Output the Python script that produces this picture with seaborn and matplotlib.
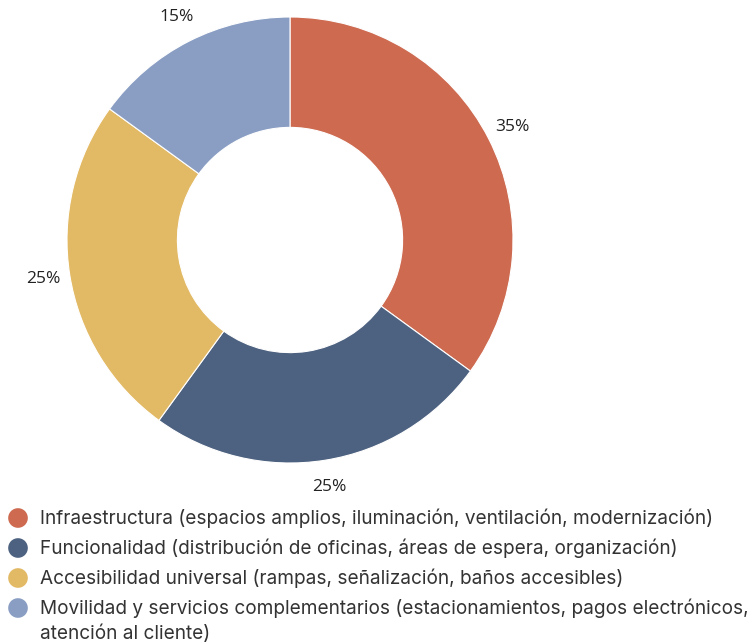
import matplotlib
matplotlib.use("Agg")
import matplotlib.pyplot as plt
import seaborn as sns

categories = [
    "Infraestructura (espacios amplios, iluminación, ventilación, modernización)",
    "Funcionalidad (distribución de oficinas, áreas de espera, organización)",
    "Accesibilidad universal (rampas, señalización, baños accesibles)",
    "Movilidad y servicios complementarios (estacionamientos, pagos electrónicos,\natención al cliente)",
]
values = [35, 25, 25, 15]
pct_labels = ["35%", "25%", "25%", "15%"]
colors = ["#CD6A50", "#4D6180", "#E2B964", "#8A9EC4"]

sns.set_theme(style="white")
plt.rcParams["font.family"] = ["Open Sans", "DejaVu Sans"]

W, H = 748, 644
fig = plt.figure(figsize=(W / 100, H / 100), dpi=100)
ax = fig.add_axes([0, 0, 1, 1])

cx, cy, r = 290, H - 240, 223
wedges, texts = ax.pie(
    values,
    labels=pct_labels,
    colors=colors,
    startangle=90,
    counterclock=False,
    center=(cx, cy),
    radius=r,
    labeldistance=1.12,
    wedgeprops=dict(width=r * 0.495, edgecolor="white", linewidth=0.8),
    textprops=dict(fontsize=12.5, color="#222222"),
    frame=True,
)
for t in texts:
    t.set_horizontalalignment("center")
    t.set_verticalalignment("center")

ax.set_xlim(0, W)
ax.set_ylim(0, H)
ax.set_aspect("equal")
ax.axis("off")

# Legend: colored dots with descriptions
legend_font = ["Inter", "DejaVu Sans"]
y0 = H - 518
for i, (lab, col) in enumerate(zip(categories, colors)):
    y = y0 - 30 * i
    ax.scatter([18], [y], s=200, color=col, edgecolor="none", zorder=3)
    for j, line in enumerate(lab.split("\n")):
        ax.text(40, y - 26 * j, line, fontsize=13.7, family=legend_font,
                color="#333333", va="center", ha="left")

fig.savefig("out.png", dpi=100)
